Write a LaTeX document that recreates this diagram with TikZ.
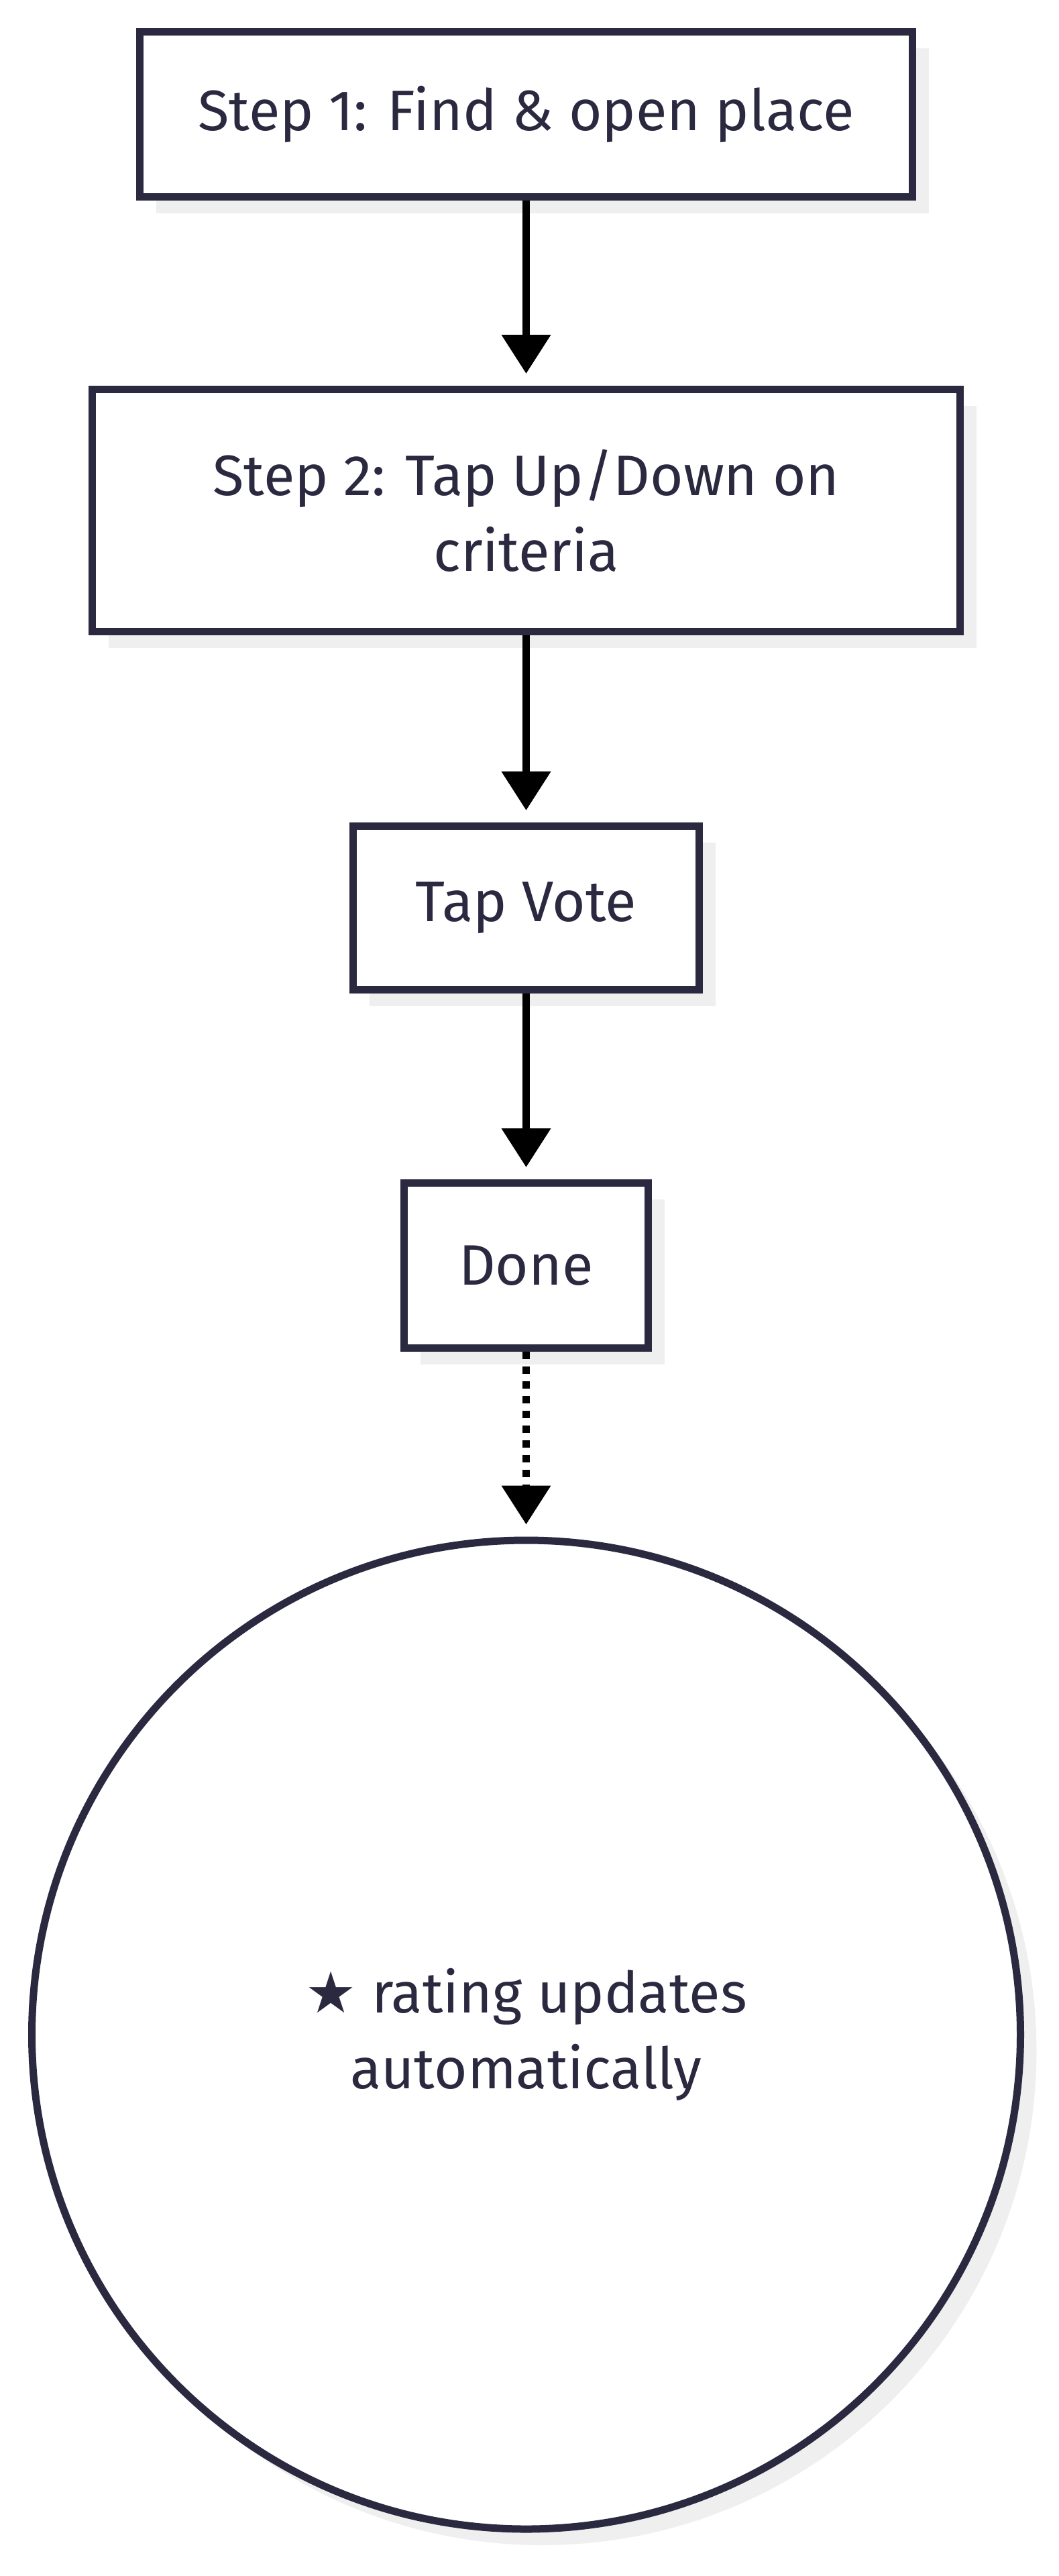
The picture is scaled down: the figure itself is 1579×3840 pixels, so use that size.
\documentclass[tikz,border=0pt]{standalone}
\usepackage{fontspec}
\setmainfont{Fira Sans}
\newfontfamily\symfont{DejaVu Sans}
\usetikzlibrary{arrows.meta}
\usetikzlibrary{shadows}
\definecolor{ink}{HTML}{2A2940}
\definecolor{shade}{HTML}{EFEFEF}
\tikzset{
	every path/.style={line width=5.5pt},
	align=center,
	font=\fontsize{42.5}{56.5}\selectfont,
	stepbox/.style={
		draw=ink,
		fill=white,
		rectangle,
		text=ink,
		drop shadow={shadow xshift=12pt, shadow yshift=-12pt, fill=shade, opacity=1},
	},
	endcircle/.style={
		draw=ink,
		fill=white,
		circle,
		text=ink,
		minimum size=737pt,
		drop shadow={shadow xshift=12pt, shadow yshift=-12pt, fill=shade, opacity=1},
	},
	flow/.style={
		draw=black,
		shorten >=9pt,
		-{Triangle[width=35.5pt, length=29pt]}
	},
	maybe/.style={dash pattern=on 5.5pt off 5.5pt},
}

\begin{document}
\begin{tikzpicture}[x=0.5pt, y=-0.5pt]
		\useasboundingbox (0,0) rectangle (1579,3840);

		\node[stepbox, minimum width=576pt, minimum height=123pt]   (find) at (784.5,170.5) {Step 1: Find \& open place};
		\node[stepbox, minimum width=647pt, minimum height=180.5pt] (tap) at (784.5,761) {Step 2: Tap Up/Down on\\criteria};
		\node[stepbox, minimum width=258pt, minimum height=122pt]   (vote) at (784.5,1353.5) {Tap Vote};
		\node[stepbox, minimum width=182pt, minimum height=123pt]   (done) at (784.5,1886.5) {Done};

		\node[endcircle] (rating) at (784.5,3033) {{\symfont ★} rating updates\\automatically};

%*********

		\draw[flow] 			(find) -- (tap);
		\draw[flow] 			(tap) -- (vote);
		\draw[flow] 			(vote) -- (done);
		\draw[flow, maybe] 	(done) -- (rating);

	\end{tikzpicture}
\end{document}
